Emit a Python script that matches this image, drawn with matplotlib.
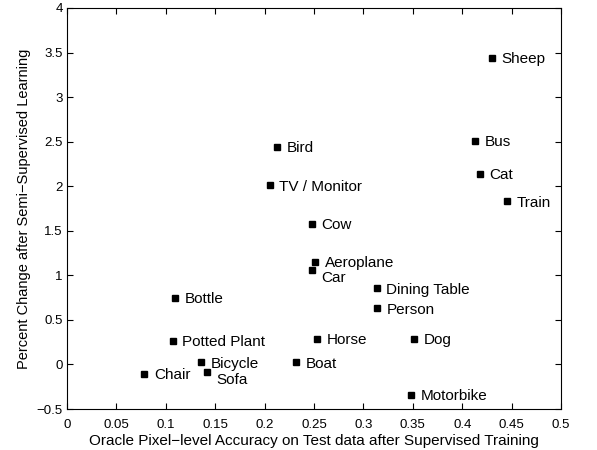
import matplotlib
matplotlib.use("Agg")
import matplotlib.pyplot as plt

plt.rcParams['font.family'] = ['Liberation Sans', 'DejaVu Sans']

labels = ["Sheep", "Bus", "Cat", "Train", "Bird", "TV / Monitor", "Cow",
          "Aeroplane", "Car", "Dining Table", "Person", "Bottle",
          "Potted Plant", "Horse", "Dog", "Bicycle", "Boat", "Chair",
          "Sofa", "Motorbike"]
acc = [0.430, 0.4126, 0.418, 0.445, 0.213, 0.205, 0.2477,
       0.251, 0.2477, 0.3135, 0.3135, 0.109,
       0.107, 0.253, 0.3516, 0.136, 0.2315, 0.078,
       0.1414, 0.348]
change = [3.44, 2.51, 2.14, 1.83, 2.44, 2.01, 1.575,
          1.155, 1.065, 0.855, 0.63, 0.75,
          0.265, 0.285, 0.285, 0.025, 0.025, -0.105,
          -0.08, -0.34]
below = {"Car", "Sofa"}

fig = plt.figure(figsize=(5.97, 4.5), dpi=100)
ax = fig.add_axes([67/597, 1-409/450, (561-67)/597, (409-8)/450])
ax.plot(acc, change, linestyle='none', marker='s', markersize=4.5, color='black')
for lab, x, y in zip(labels, acc, change):
    if lab in below:
        off = (7, -6)
    else:
        off = (7, -1)
    ax.annotate(lab, (x, y), xytext=off, textcoords='offset points',
                ha='left', va='center', fontsize=11)

ax.set_xlim(0, 0.5)
ax.set_ylim(-0.5, 4)
ax.set_xticks([0, 0.05, 0.1, 0.15, 0.2, 0.25, 0.3, 0.35, 0.4, 0.45, 0.5])
ax.set_xticklabels(["0", "0.05", "0.1", "0.15", "0.2", "0.25", "0.3", "0.35", "0.4", "0.45", "0.5"])
ax.set_yticks([-0.5, 0, 0.5, 1, 1.5, 2, 2.5, 3, 3.5, 4])
ax.set_yticklabels(["\u22120.5", "0", "0.5", "1", "1.5", "2", "2.5", "3", "3.5", "4"])
ax.tick_params(direction='in', top=True, right=True, length=4, width=0.8,
               labelsize=9.5)
ax.tick_params(axis='x', pad=7)
ax.tick_params(axis='y', pad=3)
for s in ax.spines.values():
    s.set_linewidth(0.8)
ax.set_xlabel("Oracle Pixel\u2212level Accuracy on Test data after Supervised Training", fontsize=11, labelpad=2.5)
ax.set_ylabel("Percent Change after Semi\u2212Supervised Learning", fontsize=10.5, labelpad=4)
fig.savefig("out.png", dpi=100)
